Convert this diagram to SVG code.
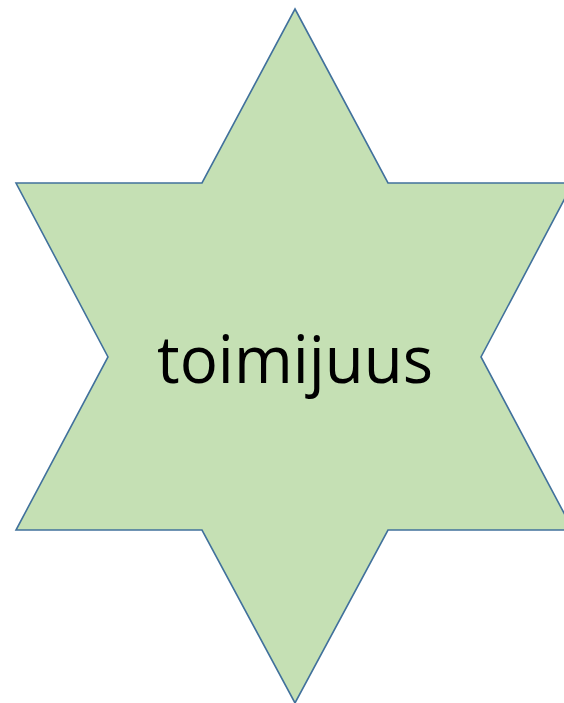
<svg xmlns="http://www.w3.org/2000/svg" width="564" height="703" viewBox="0 0 564 703">
<style>
.star{fill:#C5E0B4;stroke:#41719C;stroke-width:1.6;stroke-linejoin:miter}
.lbl{font-family:"Open Sans","Noto Sans","Liberation Sans",sans-serif;font-size:66px;fill:#000}
</style>
<rect width="564" height="703" fill="#fff"/>
<g id="star-toimijuus">
<polygon class="star" points="295,9 388,183 573,183 481,357 573,530 388,530 295,703 202,530 16,530 108,357 16,183 202,183"/>
<text class="lbl" x="295" y="383" text-anchor="middle" textLength="276" lengthAdjust="spacingAndGlyphs">toimijuus</text>
</g>
</svg>
